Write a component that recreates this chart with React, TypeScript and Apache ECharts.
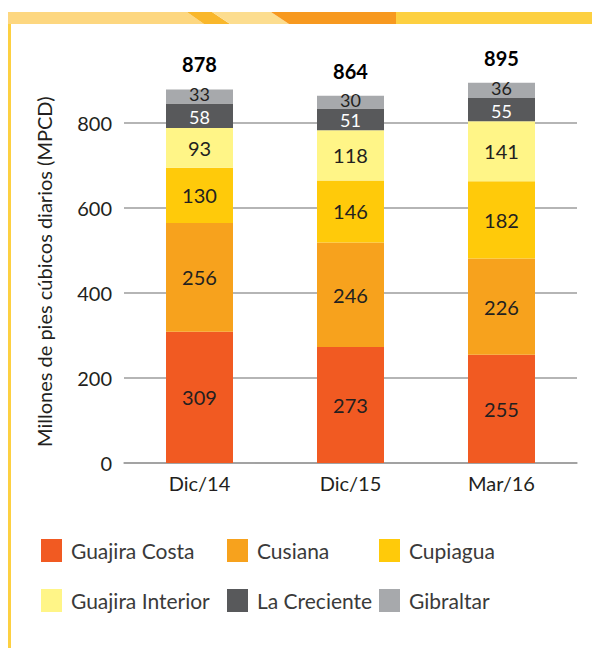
import React, { useEffect, useRef } from "react";
import * as echarts from "echarts";

const categories = ["Dic/14", "Dic/15", "Mar/16"];
const guajiraCosta = [309, 273, 255];
const cusiana = [256, 246, 226];
const cupiagua = [130, 146, 182];
const guajiraInterior = [93, 118, 141];
const laCreciente = [58, 51, 55];
const gibraltar = [33, 30, 36];
const totals = [878, 864, 895];
const yTicks = [0, 200, 400, 600, 800];

const seriesDefs = [
  { name: "Guajira Costa", data: guajiraCosta, color: "#F15A22", text: "#231F20", size: 20, dy: 0 },
  { name: "Cusiana", data: cusiana, color: "#F7A21D", text: "#231F20", size: 20, dy: 0 },
  { name: "Cupiagua", data: cupiagua, color: "#FFCA0A", text: "#231F20", size: 20, dy: 0 },
  { name: "Guajira Interior", data: guajiraInterior, color: "#FFF587", text: "#231F20", size: 20, dy: 0 },
  { name: "La Creciente", data: laCreciente, color: "#58595B", text: "#FFFFFF", size: 18, dy: 1 },
  { name: "Gibraltar", data: gibraltar, color: "#A7A9AC", text: "#231F20", size: 18, dy: -2 },
];

const FONT = "Lato, 'Noto Sans', sans-serif";

export default function App() {
  const ref = useRef<HTMLDivElement>(null);
  useEffect(() => {
    if (!ref.current) return;
    const chart = echarts.init(ref.current, null, { renderer: "svg" });
    const series: any[] = seriesDefs.map((s) => ({
      name: s.name,
      type: "bar",
      stack: "total",
      barWidth: 67,
      clip: false,
      data: s.data,
      itemStyle: { color: s.color },
      label: {
        show: true,
        position: "inside",
        offset: [0, s.dy],
        color: s.text,
        fontSize: s.size,
        lineHeight: 14,
        fontFamily: FONT,
      },
    }));
    series.push({
      name: "Total",
      type: "bar",
      stack: "total",
      barWidth: 67,
      clip: false,
      data: categories.map(() => 0),
      itemStyle: { color: "transparent" },
      label: {
        show: true,
        position: "top",
        distance: 15,
        color: "#000",
        fontSize: 20,
        fontWeight: "bold",
        fontFamily: FONT,
        formatter: (p: any) => String(totals[p.dataIndex]),
      },
    });
    const legendCol = (left: number, names: string[]) => ({
      orient: "vertical",
      left,
      top: 539,
      padding: 0,
      itemWidth: 21,
      itemHeight: 23,
      itemGap: 27,
      icon: "rect",
      data: names,
      textStyle: {
        fontSize: 21,
        color: "#3a3a3a",
        fontFamily: FONT,
        padding: [0, 0, 0, 4],
      },
    });
    chart.setOption({
      animation: false,
      backgroundColor: "#fff",
      grid: { left: 124, width: 453, top: 80.5, height: 382.5 },
      legend: [
        legendCol(41, ["Guajira Costa", "Guajira Interior"]),
        legendCol(227, ["Cusiana", "La Creciente"]),
        legendCol(379, ["Cupiagua", "Gibraltar"]),
      ],
      xAxis: {
        type: "category",
        data: categories,
        axisTick: { show: false },
        axisLine: { lineStyle: { color: "#9D9D9D", width: 1.5 } },
        axisLabel: { color: "#231F20", fontSize: 20, fontFamily: FONT, margin: 10 },
      },
      yAxis: {
        type: "value",
        min: 0,
        max: 900,
        interval: 200,
        name: "Millones de pies cúbicos diarios (MPCD)",
        nameLocation: "middle",
        nameGap: 70,
        nameTextStyle: { color: "#231F20", fontSize: 20, fontFamily: FONT },
        axisLine: { show: false },
        axisTick: { show: false },
        axisLabel: {
          color: "#231F20",
          fontSize: 20,
          fontFamily: FONT,
          margin: 12,
          formatter: (v: number) => (yTicks.includes(v) ? String(v) : ""),
        },
        splitLine: {
          lineStyle: {
            color: ["#9D9D9D", "#9D9D9D", "#9D9D9D", "#9D9D9D", "#9D9D9D", "rgba(0,0,0,0)"],
            width: 1.5,
          },
        },
      },
      series,
      graphic: [
        { type: "rect", shape: { x: 8, y: 24, width: 3, height: 624 }, style: { fill: "#FDD041" } },
        { type: "polygon", shape: { points: [[8, 12], [187, 12], [204, 24], [8, 24]] }, style: { fill: "#FDD780" } },
        { type: "polygon", shape: { points: [[187, 12], [212, 12], [230, 24], [204, 24]] }, style: { fill: "#F9B72B" } },
        { type: "polygon", shape: { points: [[212, 12], [271, 12], [289, 24], [230, 24]] }, style: { fill: "#FCDD8F" } },
        { type: "polygon", shape: { points: [[271, 12], [396, 12], [396, 24], [289, 24]] }, style: { fill: "#F7991F" } },
        { type: "polygon", shape: { points: [[396, 12], [592, 12], [592, 24], [396, 24]] }, style: { fill: "#FDD041" } },
      ],
    });
    return () => chart.dispose();
  }, []);
  return (
    <div
      ref={ref}
      style={{ position: "absolute", left: 0, top: 0, width: 592, height: 648 }}
    />
  );
}
